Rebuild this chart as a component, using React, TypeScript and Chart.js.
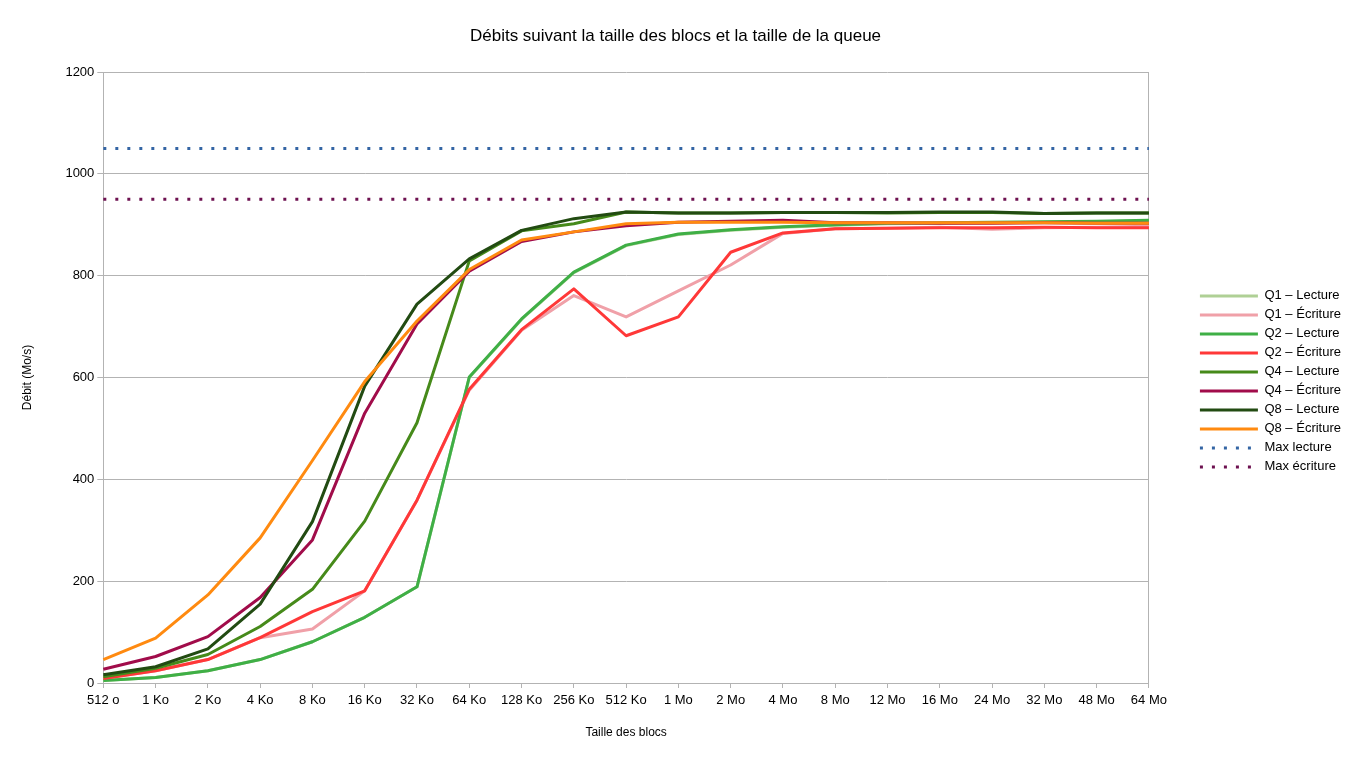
import React, { useEffect, useRef } from 'react';
import { Chart, registerables } from 'chart.js';

Chart.register(...registerables);

const FONT = "'Liberation Sans', Arial, sans-serif";

const categories = ['512 o', '1 Ko', '2 Ko', '4 Ko', '8 Ko', '16 Ko', '32 Ko', '64 Ko', '128 Ko', '256 Ko', '512 Ko', '1 Mo', '2 Mo', '4 Mo', '8 Mo', '12 Mo', '16 Mo', '24 Mo', '32 Mo', '48 Mo', '64 Mo'];

const q1Lecture = [5, 11, 24, 46, 81, 129, 189, 600, 714, 806, 859, 881, 889, 895, 899, 902, 903, 904, 905, 906, 908];
const q1Ecriture = [9, 24, 46, 89, 106, 181, 359, 575, 693, 761, 719, 770, 821, 883, 892, 893, 895, 891, 894, 895, 897];
const q2Lecture = [5, 11, 24, 46, 81, 129, 189, 601, 715, 807, 860, 882, 890, 896, 900, 903, 904, 905, 906, 907, 909];
const q2Ecriture = [9, 24, 46, 89, 140, 181, 359, 577, 694, 774, 682, 719, 846, 884, 892, 893, 894, 894, 895, 894, 894];
const q4Lecture = [12, 29, 56, 111, 184, 318, 511, 829, 888, 902, 925, 923, 923, 924, 924, 923, 924, 924, 922, 923, 923];
const q4Ecriture = [27, 52, 91, 168, 281, 530, 705, 809, 867, 886, 898, 905, 907, 909, 904, 904, 903, 903, 904, 903, 903];
const q8Lecture = [16, 32, 67, 155, 317, 583, 744, 833, 889, 912, 925, 923, 923, 924, 924, 924, 925, 925, 922, 923, 923];
const q8Ecriture = [46, 88, 173, 285, 437, 592, 711, 812, 870, 886, 902, 905, 905, 905, 904, 904, 904, 904, 904, 903, 903];
const maxLecture = [1050, 1050, 1050, 1050, 1050, 1050, 1050, 1050, 1050, 1050, 1050, 1050, 1050, 1050, 1050, 1050, 1050, 1050, 1050, 1050, 1050];
const maxEcriture = [950, 950, 950, 950, 950, 950, 950, 950, 950, 950, 950, 950, 950, 950, 950, 950, 950, 950, 950, 950, 950];

const seriesNames = ['Q1 – Lecture', 'Q1 – Écriture', 'Q2 – Lecture', 'Q2 – Écriture', 'Q4 – Lecture', 'Q4 – Écriture', 'Q8 – Lecture', 'Q8 – Écriture', 'Max lecture', 'Max écriture'];
const seriesData = [q1Lecture, q1Ecriture, q2Lecture, q2Ecriture, q4Lecture, q4Ecriture, q8Lecture, q8Ecriture, maxLecture, maxEcriture];
const seriesColors = ['#afd095', '#f0a0a8', '#3faf46', '#ff3838', '#468a1a', '#a10c4a', '#224b12', '#ff8a10', '#3465a4', '#6d1150'];
const dottedSeries = [false, false, false, false, false, false, false, false, true, true];

export default function App() {
  const ref = useRef<HTMLCanvasElement | null>(null);

  useEffect(() => {
    if (!ref.current) return;
    const n = seriesNames.length;
    const datasets = seriesNames.map((label, i) => ({
      label,
      data: seriesData[i],
      borderColor: seriesColors[i],
      backgroundColor: seriesColors[i],
      borderWidth: 3,
      borderDash: dottedSeries[i] ? [3, 9] : [],
      borderCapStyle: 'butt' as const,
      borderJoinStyle: 'round' as const,
      pointRadius: 0,
      pointHoverRadius: 0,
      tension: 0,
      fill: false,
      order: n - i,
    }));

    const chart = new Chart(ref.current, {
      type: 'line',
      data: { labels: categories, datasets },
      options: {
        responsive: false,
        animation: false,
        layout: { padding: { left: 0, right: 1, top: 0, bottom: 14 } },
        plugins: {
          title: {
            display: true,
            text: 'Débits suivant la taille des blocs et la taille de la queue',
            color: '#000',
            font: { family: FONT, size: 17, weight: 'normal' },
            padding: { top: 26, bottom: 25.6 },
          },
          legend: {
            position: 'right',
            align: 'start',
            title: { display: true, text: '', padding: { top: 269, bottom: 0 }, font: { family: FONT, size: 12 } },
            labels: {
              usePointStyle: true,
              pointStyle: 'line',
              pointStyleWidth: 58,
              padding: 6,
              color: '#000',
              font: { family: FONT, size: 13 },
              generateLabels: (c: any) => {
                const items = Chart.defaults.plugins.legend.labels.generateLabels(c);
                return items
                  .map((it: any) => {
                    const ds: any = c.data.datasets[it.datasetIndex];
                    return {
                      ...it,
                      lineDash: ds.borderDash || [],
                      lineWidth: 3,
                      strokeStyle: ds.borderColor,
                      fillStyle: ds.borderColor,
                      pointStyle: 'line',
                      lineCap: 'butt',
                    };
                  })
                  .sort((a: any, b: any) => a.datasetIndex - b.datasetIndex);
              },
            },
          },
          tooltip: { enabled: false },
        },
        scales: {
          x: {
            type: 'category',
            offset: false,
            grid: { display: true, drawOnChartArea: false, drawTicks: true, tickLength: 5, color: '#b3b3b3', offset: false },
            border: { display: true, color: '#b3b3b3' },
            ticks: { color: '#000', font: { family: FONT, size: 13 }, padding: 5, maxRotation: 0, autoSkip: false },
            title: { display: true, text: 'Taille des blocs', color: '#000', font: { family: FONT, size: 12 }, padding: { top: 12, bottom: 6 } },
          },
          y: {
            min: 0,
            max: 1200,
            ticks: { stepSize: 200, color: '#000', font: { family: FONT, size: 13 }, padding: 3, callback: (v: any) => String(v) },
            grid: { color: '#b3b3b3', tickLength: 6 },
            border: { display: true, color: '#b3b3b3' },
            title: { display: true, text: 'Débit (Mo/s)', color: '#000', font: { family: FONT, size: 12 }, padding: { top: 20, bottom: 28 } },
          },
          y2: {
            position: 'right',
            display: true,
            grid: { display: false, drawOnChartArea: false },
            ticks: { display: false },
            border: { display: true, color: '#b3b3b3' },
            afterFit: (s: any) => { s.width = 45; },
          },
        },
      } as any,
    });
    return () => chart.destroy();
  }, []);

  return (
    <div style={{ position: 'absolute', left: 0, top: 0, width: 1352, height: 760, background: '#fff' }}>
      <canvas ref={ref} width={1352} height={760} style={{ display: 'block' }} />
    </div>
  );
}
